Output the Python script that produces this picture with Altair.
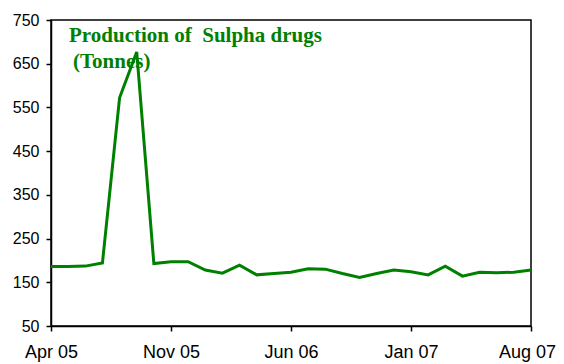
import altair as alt
import pandas as pd

months = ["Apr 05","May 05","Jun 05","Jul 05","Aug 05","Sep 05","Oct 05","Nov 05","Dec 05",
          "Jan 06","Feb 06","Mar 06","Apr 06","May 06","Jun 06","Jul 06","Aug 06","Sep 06",
          "Oct 06","Nov 06","Dec 06","Jan 07","Feb 07","Mar 07","Apr 07","May 07","Jun 07",
          "Jul 07","Aug 07"]
production = [186,186,187,194,572,677,193,197,197,178,171,189,167,170,173,181,180,170,
              161,170,178,174,167,187,164,173,172,173,178]
tick_labels = ["Apr 05","Nov 05","Jun 06","Jan 07","Aug 07"]
y_ticks = [50,150,250,350,450,550,650,750]
title_line1 = "Production of\u00a0 Sulpha drugs"
title_line2 = "(Tonnes)"

df = pd.DataFrame({"month": months, "value": production})
GREEN = "#008000"

line = alt.Chart(df).mark_line(color=GREEN, strokeWidth=3).encode(
    x=alt.X("month:O", sort=months, scale=alt.Scale(type="point", padding=0),
            axis=alt.Axis(values=tick_labels, labelAngle=0, title=None, labelPadding=12,
                          tickSize=5, labelFontSize=18,
                          labelOffset={"condition": {"test": "datum.label == 'Aug 07'", "value": -4},
                                       "value": 0})),
    y=alt.Y("value:Q", scale=alt.Scale(domain=[50, 750], nice=False, zero=False),
            axis=alt.Axis(values=y_ticks, title=None, labelPadding=7, tickSize=5,
                          labelFontSize=16)),
)

def title_text(txt, xpos, ypos):
    return alt.Chart(pd.DataFrame({"t": [txt]})).mark_text(
        align="left", baseline="alphabetic", font="Liberation Serif", fontWeight="bold",
        fontSize=21, color=GREEN
    ).encode(x=alt.value(xpos), y=alt.value(ypos), text="t")

t1 = title_text(title_line1, 18, 22)
t2 = title_text(title_line2, 22, 48)

chart = alt.layer(line, t1, t2).properties(
    width=480, height=306,
    autosize=alt.AutoSizeParams(type="none"),
    padding={"left": 43, "top": 12, "right": 25, "bottom": 38},
).configure_view(stroke="black", strokeWidth=1.5).configure_axis(
    grid=False, domainColor="black", domainWidth=1.5, tickColor="black", tickWidth=1.5,
    labelFont="Liberation Sans", labelColor="black"
)

chart.save("out.html", embed_options={"renderer": "svg", "actions": False})
